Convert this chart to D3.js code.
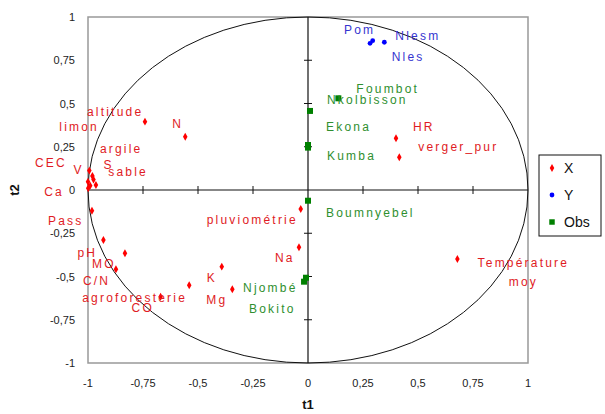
<html>
<head>
<script src="https://d3js.org/d3.v7.min.js"></script>
<style>
  body { margin: 0; background: white; }
  .lab { font: 12px "Liberation Sans", Arial, sans-serif; letter-spacing: 2.2px; }
  .tick { font: 11px "Liberation Sans", Arial, sans-serif; fill: #222; }
  .ttl { font: bold 13px "Liberation Sans", Arial, sans-serif; fill: #111; }
  .leg { font: 14px "Liberation Sans", Arial, sans-serif; fill: #111; }
</style>
</head>
<body>
<svg width="605" height="414"></svg>
<script>
// variables (X)
var xNames = ["altitude","N","limon","argile","CEC","V","S","sable","Ca","Pass","pH","MO","C/N","CO",
              "agroforesterie","K","Mg","pluviométrie","Na","HR","verger_pur","Température moy"];
var xT1 = [-0.741,-0.558,-0.994,-0.964,-1.0,-0.98,-0.975,-0.99,-0.999,-0.982,-0.93,-0.832,-0.873,-0.67,
           -0.54,-0.392,-0.344,-0.033,-0.041,0.4,0.415,0.679];
var xT2 = [0.395,0.308,0.112,0.029,0.048,0.081,0.06,0.025,0.01,-0.12,-0.289,-0.366,-0.458,-0.617,
           -0.551,-0.443,-0.574,-0.11,-0.331,0.299,0.189,-0.399];
// variables (Y)
var yNames = ["Pom","Nlesm","Nles"];
var yT1 = [0.282,0.347,0.294];
var yT2 = [0.848,0.854,0.863];
// observations
var obsNames = ["Foumbot","Nkolbisson","Ekona","Kumba","Boumnyebel","Njombé","Bokito"];
var obsT1 = [0.138,0.009,0.0,0.0,0.0,-0.009,-0.018];
var obsT2 = [0.53,0.457,0.26,0.245,-0.062,-0.507,-0.53];

var ticks = [-1,-0.75,-0.5,-0.25,0,0.25,0.5,0.75,1];
var tickLabels = ["-1","-0,75","-0,5","-0,25","0","0,25","0,5","0,75","1"];
var legendNames = ["X","Y","Obs"];

// label placement (pixels, relative to the point)
var labelOffset = {
  "altitude":[-58,-10], "N":[-13,-13], "limon":[-30,-44], "argile":[4,-36], "CEC":[-53,-19],
  "V":[-19,-6], "S":[10,-15], "sable":[18,-14], "Ca":[-44,4], "Pass":[-44,10], "pH":[-26,13],
  "MO":[-33,11], "C/N":[-33,12], "CO":[-29,11], "agroforesterie":[-107,13], "K":[-15,11],
  "Mg":[-26,11], "pluviométrie":[-94,11], "Na":[-24,11], "HR":[17,-11], "verger_pur":[19,-10],
  "Pom":[-26,-13], "Nlesm":[11,-6], "Nles":[19,16],
  "Foumbot":[18,-9], "Nkolbisson":[17,-11], "Ekona":[18,-18], "Kumba":[19,8],
  "Boumnyebel":[18,12], "Njombé":[-63,10], "Bokito":[-55,27]
};

var svg = d3.select("svg");
var xs = d3.scaleLinear().domain([-1,1]).range([88,528]);
var ys = d3.scaleLinear().domain([-1,1]).range([363,17]);

var red = "#ff0000", redText = "#e01b24";
var blue = "#0000ff", blueText = "#3535d0";
var green = "#008000", greenText = "#2f8f2f";

// frame
svg.append("rect")
  .attr("x", xs(-1)).attr("y", ys(1))
  .attr("width", xs(1)-xs(-1)).attr("height", ys(-1)-ys(1))
  .attr("fill","none").attr("stroke","#999").attr("stroke-width",1.5);

// correlation circle
svg.append("ellipse")
  .attr("cx", xs(0)).attr("cy", ys(0))
  .attr("rx", xs(1)-xs(0)).attr("ry", ys(0)-ys(1))
  .attr("fill","none").attr("stroke","#111").attr("stroke-width",1);

// axes through origin
svg.append("line").attr("x1",xs(-1)).attr("x2",xs(1)).attr("y1",ys(0)).attr("y2",ys(0))
  .attr("stroke","#111").attr("stroke-width",1.2);
svg.append("line").attr("x1",xs(0)).attr("x2",xs(0)).attr("y1",ys(1)).attr("y2",ys(-1))
  .attr("stroke","#111").attr("stroke-width",1.2);

var inner = ticks.filter(function(t){ return t > -1 && t < 1 && t != 0; });
svg.selectAll(".xt").data(inner).enter().append("line")
  .attr("x1", function(d){ return xs(d); }).attr("x2", function(d){ return xs(d); })
  .attr("y1", ys(0)-4).attr("y2", ys(0)+4).attr("stroke","#111");
svg.selectAll(".yt").data(inner).enter().append("line")
  .attr("y1", function(d){ return ys(d); }).attr("y2", function(d){ return ys(d); })
  .attr("x1", xs(0)-4).attr("x2", xs(0)+4).attr("stroke","#111");

// tick labels
svg.selectAll(".xl").data(ticks).enter().append("text")
  .attr("class","tick").attr("text-anchor","middle")
  .attr("x", function(d){ return xs(d); }).attr("y", ys(-1)+24)
  .text(function(d,i){ return tickLabels[i]; });
svg.selectAll(".yl").data(ticks).enter().append("text")
  .attr("class","tick").attr("text-anchor","end")
  .attr("x", xs(-1)-13).attr("y", function(d){ return ys(d)+4; })
  .text(function(d,i){ return tickLabels[i]; });

svg.append("text").attr("class","ttl").attr("text-anchor","middle")
  .attr("x", xs(0)).attr("y", 409).text("t1");
svg.append("text").attr("class","ttl").attr("text-anchor","middle")
  .attr("transform","translate(19,"+ys(0)+") rotate(-90)").text("t2");

function drawGroup(names, t1, t2, symbol, size, fill, textFill) {
  var pts = names.map(function(n,i){ return {name:n, x:t1[i], y:t2[i]}; });
  var g = svg.append("g");
  g.selectAll("path").data(pts).enter().append("path")
    .attr("transform", function(d){ return "translate("+xs(d.x)+","+ys(d.y)+")"; })
    .attr("d", d3.symbol().type(symbol).size(size))
    .attr("fill", fill);
  g.selectAll("text").data(pts.filter(function(d){ return d.name != "Température moy"; })).enter()
    .append("text").attr("class","lab").attr("fill", textFill)
    .attr("x", function(d){ return xs(d.x)+labelOffset[d.name][0]; })
    .attr("y", function(d){ return ys(d.y)+labelOffset[d.name][1]+4; })
    .text(function(d){ return d.name; });
  return pts;
}

var xPts = drawGroup(xNames, xT1, xT2, d3.symbolDiamond, 18, red, redText);
drawGroup(yNames, yT1, yT2, d3.symbolCircle, 18, blue, blueText);
drawGroup(obsNames, obsT1, obsT2, d3.symbolSquare, 36, green, greenText);

// two-line label for Température moy
var tp = xPts.filter(function(d){ return d.name == "Température moy"; })[0];
var tt = svg.append("text").attr("class","lab").attr("fill",redText).attr("text-anchor","middle")
  .attr("x", xs(tp.x)+66).attr("y", ys(tp.y)+8);
tt.append("tspan").attr("x", xs(tp.x)+66).text("Température");
tt.append("tspan").attr("x", xs(tp.x)+66).attr("dy", 19).text("moy");

// legend
var lg = svg.append("g");
lg.append("rect").attr("x",539).attr("y",155).attr("width",62).attr("height",81)
  .attr("fill","white").attr("stroke","#111").attr("stroke-width",1);
var legSym = [d3.symbolDiamond, d3.symbolCircle, d3.symbolSquare];
var legCol = [red, blue, green];
var legSize = [18, 18, 30];
lg.selectAll("path").data(legendNames).enter().append("path")
  .attr("transform", function(d,i){ return "translate(552,"+(168+i*27)+")"; })
  .attr("d", function(d,i){ return d3.symbol().type(legSym[i]).size(legSize[i])(); })
  .attr("fill", function(d,i){ return legCol[i]; });
lg.selectAll("text").data(legendNames).enter().append("text")
  .attr("class","leg").attr("x",564).attr("y", function(d,i){ return 173+i*27; })
  .text(function(d){ return d; });
</script>
</body>
</html>
